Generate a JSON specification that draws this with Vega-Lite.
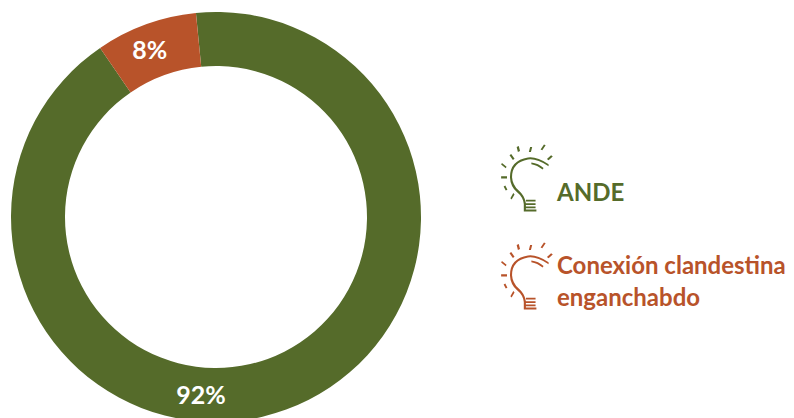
{"$schema":"https://vega.github.io/schema/vega-lite/v6.json","width":432,"height":434,"autosize":"none","padding":{"left":0,"top":0,"right":362,"bottom":0},"background":"white","view":{"stroke":null},"data":{"values":[{"fuente":"ANDE","pct":92,"orden":1,"etiqueta":"92%"},{"fuente":"Conexión clandestina enganchabdo","pct":8,"orden":2,"etiqueta":"8%"}]},"layer":[{"mark":{"type":"arc","outerRadius":205,"innerRadius":151},"encoding":{"theta":{"field":"pct","type":"quantitative","stack":true,"scale":{"domain":[0,100],"range":[-0.098,6.185]}},"order":{"field":"orden"},"color":{"field":"fuente","type":"nominal","scale":{"domain":["ANDE","Conexión clandestina enganchabdo"],"range":["#556b2a","#b8532a"]},"legend":{"title":null,"orient":"none","legendX":486,"legendY":136,"rowPadding":22,"symbolSize":7056,"symbolStrokeWidth":0,"symbolType":"M0.49 -0.33 Q0.2 -0.52 0 -0.49 Q-0.43 -0.42 -0.43 -0.02 Q-0.42 0.2 -0.26 0.34 Q-0.12 0.45 -0.1 0.62 L-0.1 0.8 L0.2 0.8 L0.2 0.75 L-0.05 0.75 L-0.05 0.6 Q-0.08 0.42 -0.22 0.3 Q-0.37 0.16 -0.38 -0.02 Q-0.38 -0.37 0 -0.44 Q0.2 -0.47 0.49 -0.28 Z M-0.05 0.52 L0.18 0.52 L0.18 0.56 L-0.05 0.56 Z M-0.05 0.6 L0.18 0.6 L0.18 0.64 L-0.05 0.64 Z M-0.05 0.68 L0.18 0.68 L0.18 0.72 L-0.05 0.72 Z M0.08 -0.37 Q0.25 -0.35 0.37 -0.24 L0.35 -0.2 Q0.22 -0.31 0.08 -0.33 Z M-0.27 -0.74 L-0.22 -0.76 L-0.19 -0.64 L-0.24 -0.62 Z M0.05 -0.74 L0.1 -0.74 L0.07 -0.62 L0.02 -0.62 Z M0.38 -0.8 L0.42 -0.78 L0.34 -0.66 L0.3 -0.68 Z M-0.44 -0.54 L-0.4 -0.57 L-0.32 -0.46 L-0.36 -0.43 Z M0.55 -0.54 L0.59 -0.51 L0.49 -0.42 L0.45 -0.45 Z M-0.64 -0.32 L-0.62 -0.36 L-0.51 -0.27 L-0.53 -0.23 Z M-0.64 -0.04 L-0.5 -0.04 L-0.5 0.01 L-0.64 0.01 Z M-0.58 0.2 L-0.54 0.18 L-0.49 0.28 L-0.53 0.3 Z M-0.42 0.48 L-0.39 0.51 L-0.32 0.39 L-0.35 0.36 Z","labelFont":"Lato","labelFontWeight":"bold","labelFontSize":24,"labelLimit":400,"labelOffset":-13,"labelExpr":"datum.value == 'ANDE' ? 'ANDE' : ['Conexión clandestina','enganchabdo']","encode":{"labels":{"update":{"fill":{"scale":"color","field":"value"},"lineHeight":{"value":32},"dy":{"signal":"datum.value == 'ANDE' ? 16 : -9"}}}}}}}},{"transform":[{"filter":"datum.orden == 1"}],"mark":{"type":"text","theta":3.225,"radius":180,"font":"Lato","fontWeight":"bold","fontSize":25,"color":"white"},"encoding":{"text":{"field":"etiqueta"}}},{"transform":[{"filter":"datum.orden == 2"}],"mark":{"type":"text","theta":-0.379,"radius":179,"font":"Lato","fontWeight":"bold","fontSize":25,"color":"white"},"encoding":{"text":{"field":"etiqueta"}}}]}
